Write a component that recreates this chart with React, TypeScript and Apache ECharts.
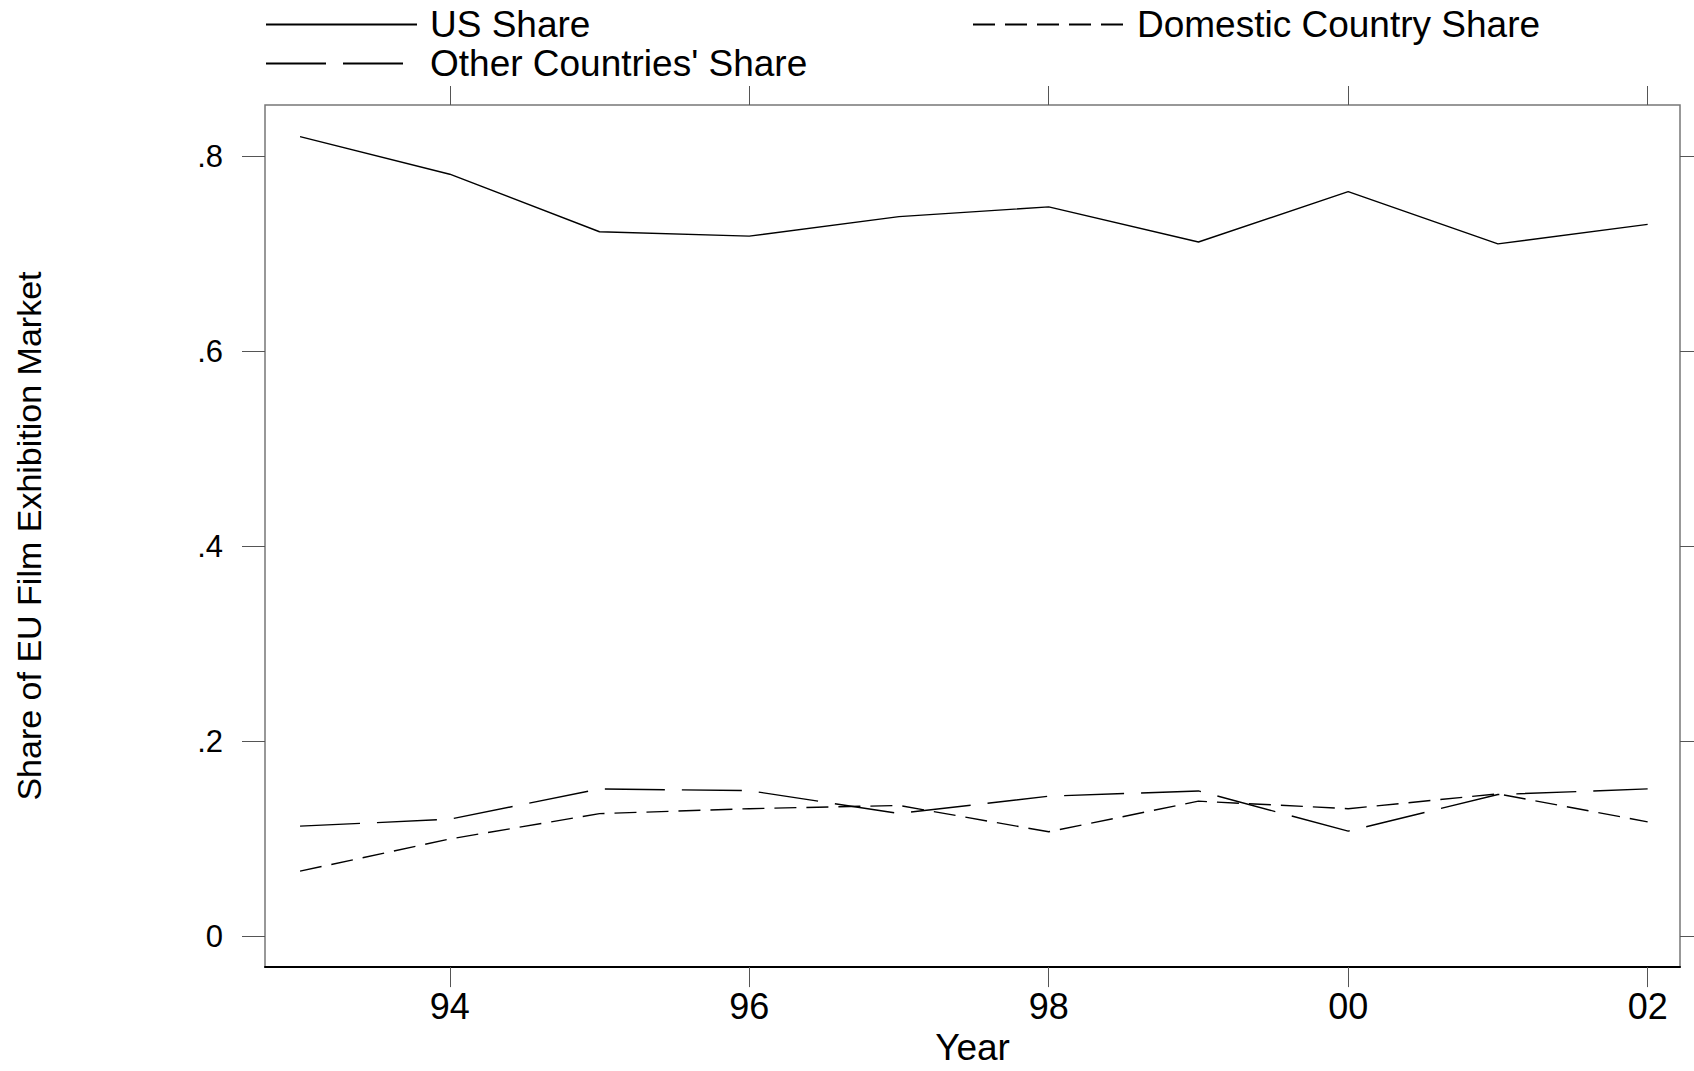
import React, { useEffect, useRef } from "react";
import * as echarts from "echarts";

const years = [1993, 1994, 1995, 1996, 1997, 1998, 1999, 2000, 2001, 2002];
const usShare = [0.82, 0.7815, 0.7225, 0.718, 0.738, 0.748, 0.712, 0.7636, 0.71, 0.73];
const domesticShare = [0.0666, 0.0996, 0.1256, 0.1307, 0.134, 0.107, 0.1384, 0.1307, 0.1459, 0.1172];
const otherShare = [0.1128, 0.1199, 0.1509, 0.1492, 0.1258, 0.1435, 0.1489, 0.1077, 0.1452, 0.151];
const xTicks = [1994, 1996, 1998, 2000, 2002];
const yTicks = [0, 0.2, 0.4, 0.6, 0.8];
const seriesNames = ["US Share", "Domestic Country Share", "Other Countries' Share"];

const FONT = "Liberation Sans, Arial, Helvetica, sans-serif";

export default function App() {
  const ref = useRef<HTMLDivElement>(null);
  useEffect(() => {
    if (!ref.current) return;
    const chart = echarts.init(ref.current, null, { renderer: "svg" });
    const pair = (vals: number[]) => years.map((y, i) => [y, vals[i]]);
    const xMin = 1992.766;
    const xMax = 2002.216;
    const yMin = -0.0318;
    const yMax = 0.8525;
    const legendBase = {
      orient: "horizontal",
      itemWidth: 151,
      itemHeight: 14,
      padding: 0,
      itemGap: 0,
      itemStyle: { opacity: 0 },
      textStyle: { fontFamily: FONT, fontSize: 37, color: "#000", padding: [0, 0, 0, 8] },
      selectedMode: false,
    };
    chart.setOption({
      animation: false,
      backgroundColor: "#fff",
      legend: [
        { ...legendBase, data: [seriesNames[0]], left: 265, top: 6 },
        { ...legendBase, data: [seriesNames[1]], left: 972, top: 6 },
        { ...legendBase, data: [seriesNames[2]], left: 265, top: 45 },
      ],
      grid: {
        left: 265,
        right: 14,
        top: 105,
        bottom: 92,
        show: true,
        borderColor: "#777",
        borderWidth: 1.5,
        backgroundColor: "#fff",
      },
      xAxis: [
        {
          type: "value",
          min: xMin,
          max: xMax,
          position: "bottom",
          name: "Year",
          nameLocation: "middle",
          nameGap: 55,
          nameTextStyle: { fontFamily: FONT, fontSize: 37, color: "#000" },
          axisLine: { show: true, onZero: false, lineStyle: { color: "#000", width: 2 } },
          axisTick: { show: true, inside: false, length: 20, customValues: xTicks, lineStyle: { color: "#555", width: 1 } },
          axisLabel: {
            show: true,
            customValues: xTicks,
            margin: 21,
            fontFamily: FONT,
            fontSize: 36,
            color: "#000",
            formatter: (v: number) => String(v).slice(2),
          },
          splitLine: { show: false },
        },
        {
          type: "value",
          min: xMin,
          max: xMax,
          position: "top",
          axisLine: { show: false, onZero: false },
          axisTick: { show: true, inside: false, length: 19, customValues: xTicks, lineStyle: { color: "#555", width: 1 } },
          axisLabel: { show: false },
          splitLine: { show: false },
        },
      ],
      yAxis: [
        {
          type: "value",
          min: yMin,
          max: yMax,
          position: "left",
          name: "Share of EU Film Exhibition Market",
          nameLocation: "middle",
          nameGap: 219,
          nameTextStyle: { fontFamily: FONT, fontSize: 34, color: "#000" },
          axisLine: { show: false, onZero: false },
          axisTick: { show: true, inside: false, length: 23, customValues: yTicks, lineStyle: { color: "#555", width: 1 } },
          axisLabel: {
            show: true,
            customValues: yTicks,
            margin: 42,
            fontFamily: FONT,
            fontSize: 31,
            color: "#000",
            formatter: (v: number) => (Math.abs(v) < 1e-9 ? "0" : v.toFixed(1).replace(/^0/, "")),
          },
          splitLine: { show: false },
        },
        {
          type: "value",
          min: yMin,
          max: yMax,
          position: "right",
          axisLine: { show: false, onZero: false },
          axisTick: { show: true, inside: false, length: 20, customValues: yTicks, lineStyle: { color: "#555", width: 1 } },
          axisLabel: { show: false },
          splitLine: { show: false },
        },
      ],
      series: [
        {
          name: seriesNames[0],
          type: "line",
          data: pair(usShare),
          symbol: "none",
          lineStyle: { color: "#000", width: 1.4, type: "solid" },
          itemStyle: { color: "#000" },
        },
        {
          name: seriesNames[1],
          type: "line",
          data: pair(domesticShare),
          symbol: "none",
          lineStyle: { color: "#000", width: 1.4, type: [22, 10] },
          itemStyle: { color: "#000" },
        },
        {
          name: seriesNames[2],
          type: "line",
          data: pair(otherShare),
          symbol: "none",
          lineStyle: { color: "#000", width: 1.4, type: [60, 17] },
          itemStyle: { color: "#000" },
        },
      ],
    });
    return () => chart.dispose();
  }, []);
  return (
    <div
      ref={ref}
      style={{ position: "absolute", left: 0, top: 0, width: 1694, height: 1071, background: "#fff" }}
    />
  );
}
